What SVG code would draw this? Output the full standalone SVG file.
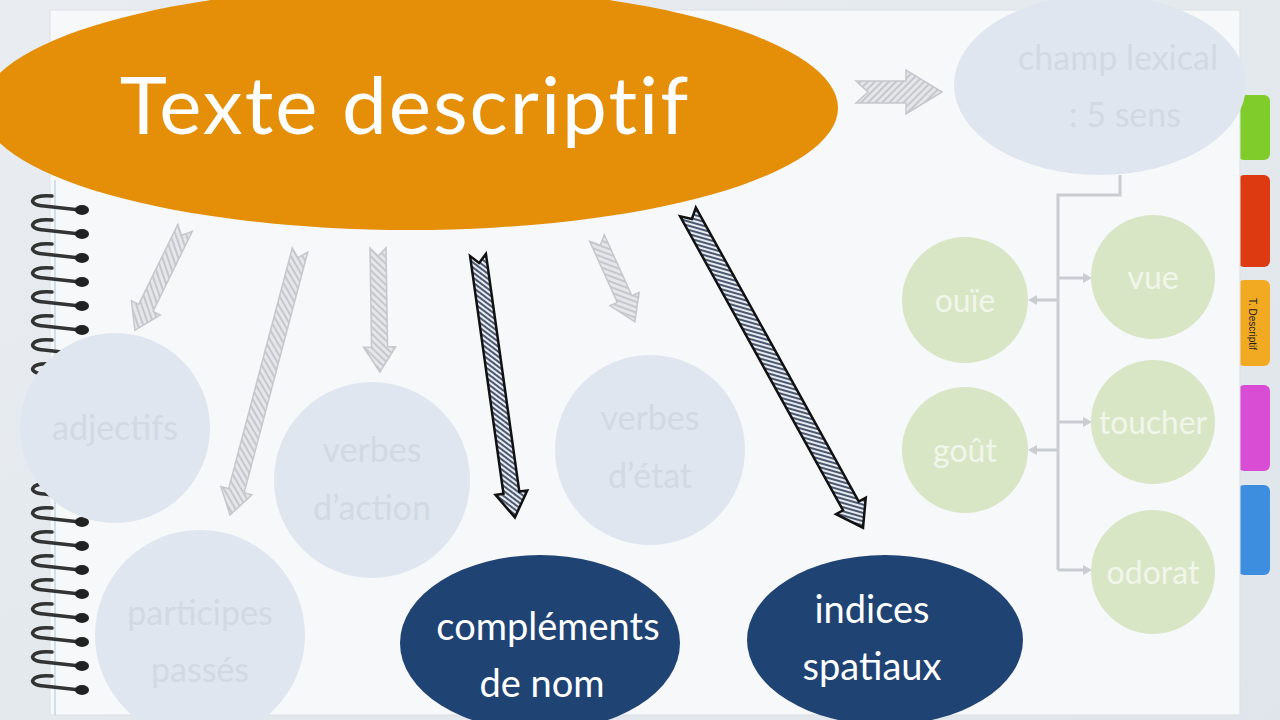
<svg xmlns="http://www.w3.org/2000/svg" width="1280" height="720" viewBox="0 0 1280 720">
<defs>
<linearGradient id="bg" x1="0" y1="0" x2="1" y2="1"><stop offset="0" stop-color="#e9edf1"/><stop offset="1" stop-color="#dfe5ea"/></linearGradient>
<pattern id="hl" width="5" height="5" patternUnits="userSpaceOnUse" patternTransform="rotate(45)"><rect width="5" height="5" fill="#e4e6e9"/><rect width="2" height="5" fill="#c4c8cd"/></pattern>
<pattern id="hd" width="4" height="4" patternUnits="userSpaceOnUse" patternTransform="rotate(45)"><rect width="4" height="4" fill="#e8ecf2"/><rect width="2" height="4" fill="#4a5870"/></pattern>
<g id="ring"><path d="M52 0 C30 -2 26 9 44 10 L80 14" fill="none" stroke="#333" stroke-width="3.5" stroke-linecap="round"/><ellipse cx="82" cy="14" rx="7" ry="5" fill="#222"/></g>
</defs>
<style>
.gt{font-family:"Lato","Noto Sans",sans-serif;fill:#d2d9e2;text-anchor:middle;font-size:34px}
.grn{font-family:"Lato","Noto Sans",sans-serif;fill:#f1f5ea;text-anchor:middle;font-size:32px}
.wt{font-family:"Lato","Noto Sans",sans-serif;fill:#fff;text-anchor:middle;font-size:38px}
.lc{fill:#dfe6ef}
.gc{fill:#d9e6c6}
.dc{fill:#1f4373}
.al{fill:url(#hl);stroke:#c3c8ce;stroke-width:1.5}
.ad{fill:url(#hd);stroke:#111;stroke-width:2.5}
.ln{stroke:#c9cdd2;stroke-width:3;fill:none}
</style>
<rect width="1280" height="720" fill="url(#bg)"/>
<rect x="1238" y="95" width="32" height="65" rx="6" fill="#7fcc2a"/>
<rect x="1238" y="175" width="32" height="92" rx="6" fill="#dd3a12"/>
<rect x="1238" y="280" width="32" height="86" rx="6" fill="#f2aa22"/>
<text x="0" y="0" transform="translate(1249,324) rotate(90)" font-family="Liberation Sans,sans-serif" font-size="10" text-anchor="middle" fill="#222">T. Descriptif</text>
<rect x="1238" y="385" width="32" height="86" rx="6" fill="#d84dd4"/>
<rect x="1238" y="485" width="32" height="90" rx="6" fill="#3e8ee0"/>
<rect x="50" y="10" width="1190" height="705" fill="#f6f8fa" stroke="#dde1e5"/>
<line x1="55" y1="180" x2="55" y2="715" stroke="#cfe0ec" stroke-width="2"/>
<g id="spiral">
<use href="#ring" transform="translate(0,196)"/><use href="#ring" transform="translate(0,220)"/><use href="#ring" transform="translate(0,244)"/><use href="#ring" transform="translate(0,268)"/><use href="#ring" transform="translate(0,292)"/><use href="#ring" transform="translate(0,316)"/><use href="#ring" transform="translate(0,340)"/><use href="#ring" transform="translate(0,364)"/><use href="#ring" transform="translate(0,388)"/><use href="#ring" transform="translate(0,412)"/><use href="#ring" transform="translate(0,436)"/><use href="#ring" transform="translate(0,460)"/><use href="#ring" transform="translate(0,484)"/><use href="#ring" transform="translate(0,508)"/><use href="#ring" transform="translate(0,532)"/><use href="#ring" transform="translate(0,556)"/><use href="#ring" transform="translate(0,580)"/><use href="#ring" transform="translate(0,604)"/><use href="#ring" transform="translate(0,628)"/><use href="#ring" transform="translate(0,652)"/><use href="#ring" transform="translate(0,676)"/>
</g>
<g id="connectors">
<path class="ln" d="M1120 175 V195 H1058 V570"/>
<path class="ln" d="M1058 278 H1085 M1058 422 H1085 M1058 570 H1085 M1058 300 H1035 M1058 450 H1035"/>
<path d="M1092 278 l-9 -5 v10z M1092 422 l-9 -5 v10z M1092 570 l-9 -5 v10z M1028 300 l9 -5 v10z M1028 450 l9 -5 v10z" fill="#c9cdd2"/>
<path class="al" transform="translate(185,228) rotate(116.1)" d="M0 -8 H89 V-16 L114 0 L89 16 V8 H0 L8 0Z"/>
<path class="al" transform="translate(300,250) rotate(104.8)" d="M0 -8 H249 V-16 L274 0 L249 16 V8 H0 L8 0Z"/>
<path class="al" transform="translate(378,248) rotate(89.1)" d="M0 -8 H99 V-16 L124 0 L99 16 V8 H0 L8 0Z"/>
<path class="ad" transform="translate(478,255) rotate(82)" d="M0 -8 H240 V-16 L265 0 L240 16 V8 H0 L8 0Z"/>
<path class="al" transform="translate(597,238) rotate(65.7)" d="M0 -8 H67 V-16 L92 0 L67 16 V8 H0 L8 0Z"/>
<path class="ad" transform="translate(688,212) rotate(61)" d="M0 -9 H336 V-17 L361 0 L336 17 V9 H0 L8 0Z"/>
<path class="al" transform="translate(856,92)" d="M0 -11 H50 V-22 L86 0 L50 22 V11 H0 L12 0Z"/>
</g>
<g id="n-title"><ellipse cx="410" cy="108" rx="428" ry="122" fill="#e58e07"/><text x="405" y="134" font-family="Lato,'Noto Sans',sans-serif" font-size="80" fill="#fff" text-anchor="middle" letter-spacing="2">Texte descriptif</text></g>
<g id="n-champ"><ellipse class="lc" cx="1100" cy="85" rx="146" ry="90"/><text class="gt" x="1118" y="70">champ lexical</text><text class="gt" x="1125" y="127">: 5 sens</text></g>
<g id="n-adj"><circle class="lc" cx="115" cy="428" r="95"/><text class="gt" x="115" y="440">adjectifs</text></g>
<g id="n-part"><circle class="lc" cx="200" cy="635" r="105"/><text class="gt" x="200" y="625">participes</text><text class="gt" x="200" y="682">passés</text></g>
<g id="n-va"><circle class="lc" cx="372" cy="480" r="98"/><text class="gt" x="372" y="462">verbes</text><text class="gt" x="372" y="520">d’action</text></g>
<g id="n-ve"><circle class="lc" cx="650" cy="450" r="95"/><text class="gt" x="650" y="430">verbes</text><text class="gt" x="650" y="488">d’état</text></g>
<g id="n-cn"><ellipse class="dc" cx="540" cy="643" rx="140" ry="88"/><text class="wt" x="548" y="640">compléments</text><text class="wt" x="542" y="697">de nom</text></g>
<g id="n-is"><ellipse class="dc" cx="885" cy="640" rx="138" ry="85"/><text class="wt" x="872" y="623">indices</text><text class="wt" x="872" y="680">spatiaux</text></g>
<g id="n-ouie"><circle class="gc" cx="965" cy="300" r="63"/><text class="grn" x="965" y="312">ouïe</text></g>
<g id="n-gout"><circle class="gc" cx="965" cy="450" r="63"/><text class="grn" x="965" y="462">goût</text></g>
<g id="n-vue"><circle class="gc" cx="1153" cy="277" r="62"/><text class="grn" x="1153" y="289">vue</text></g>
<g id="n-toucher"><circle class="gc" cx="1153" cy="422" r="62"/><text class="grn" x="1153" y="434" textLength="108" lengthAdjust="spacingAndGlyphs">toucher</text></g>
<g id="n-odorat"><circle class="gc" cx="1153" cy="572" r="62"/><text class="grn" x="1153" y="584">odorat</text></g>
</svg>
